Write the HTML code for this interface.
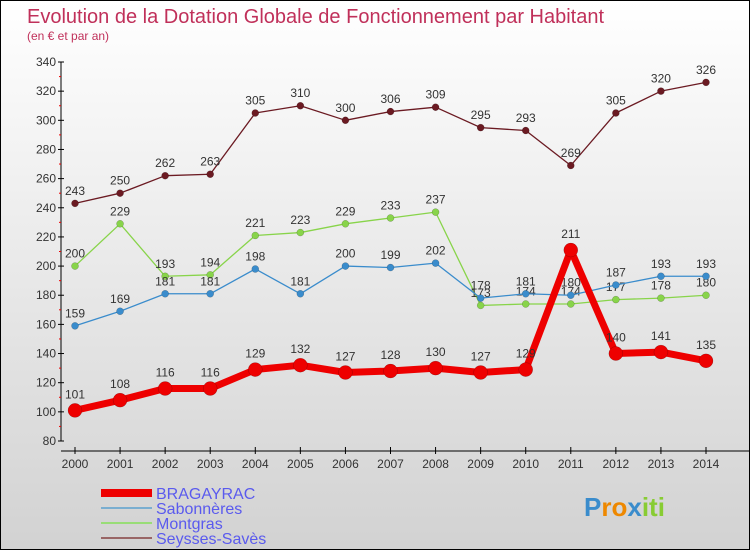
<!DOCTYPE html>
<html><head><meta charset="utf-8"><style>
html,body{margin:0;padding:0}
body{width:750px;height:550px;overflow:hidden;font-family:"Liberation Sans",sans-serif}
#wrap{position:absolute;left:0;top:0;width:748px;height:548px;border:1px solid #000;background:linear-gradient(#ffffff,#d2d2d2)}
</style></head><body>
<div id="wrap">
<svg id="chart" width="748" height="548" style="position:absolute;left:0;top:0">
<text x="26" y="22" font-size="20" fill="#c0305a">Evolution de la Dotation Globale de Fonctionnement par Habitant</text>
<text x="26" y="39" font-size="12" fill="#c0305a">(en € et par an)</text>
</svg>
</div>
<script>
const years=[2000,2001,2002,2003,2004,2005,2006,2007,2008,2009,2010,2011,2012,2013,2014];
const bragayrac=[101,108,116,116,129,132,127,128,130,127,129,211,140,141,135];
const sabonneres=[159,169,181,181,198,181,200,199,202,178,181,180,187,193,193];
const montgras=[200,229,193,194,221,223,229,233,237,173,174,174,177,178,180];
const seysses=[243,250,262,263,305,310,300,306,309,295,293,269,305,320,326];
const yTicks=[80,100,120,140,160,180,200,220,240,260,280,300,320,340];
const seriesNames=["BRAGAYRAC","Sabonnères","Montgras","Seysses-Savès"];

const svg=document.getElementById('chart');
const NS='http://www.w3.org/2000/svg';
const x0=74,x1=705,yb=440,yt=61,vmin=80,vmax=340;
function xs(i){return x0+(x1-x0)*i/(years.length-1);}
function ys(v){return yb-(v-vmin)*(yb-yt)/(vmax-vmin);}
function mk(tag,attrs,parent){const e=document.createElementNS(NS,tag);for(const k in attrs)e.setAttribute(k,attrs[k]);(parent||svg).appendChild(e);return e;}

// y axis
const yAxis=mk('g',{});


mk('line',{x1:60,y1:yt,x2:60,y2:yb,stroke:'#000','stroke-width':1},yAxis);
yTicks.forEach(t=>{
  const y=ys(t);
  mk('line',{x1:57,y1:y,x2:63,y2:y,stroke:'#000'},yAxis);
  if(t<vmax) mk('line',{x1:58,y1:ys(t+10),x2:60,y2:ys(t+10),stroke:'#e00'},yAxis);
  const tx=mk('text',{x:55,y:y+4,'font-size':12,fill:'#333','text-anchor':'end'},yAxis);
  
  
  tx.textContent=t;
});
// x axis
const xAxis=mk('g',{});


mk('line',{x1:60,y1:450,x2:748,y2:450,stroke:'#000'},xAxis);
years.forEach((yr,i)=>{
  const x=xs(i);
  mk('line',{x1:x,y1:446,x2:x,y2:453,stroke:'#000'},xAxis);
  const tx=mk('text',{x:x,y:467,'font-size':12,fill:'#333','text-anchor':'middle'},xAxis);
  
  
  tx.textContent=yr;
});

function drawSeries(data,color,lw,r,name){
  const g=mk('g',{});
  
  
  mk('polyline',{points:data.map((v,i)=>xs(i)+','+ys(v)).join(' '),fill:'none',stroke:color,'stroke-width':lw,'stroke-linejoin':'round'},g);
  data.forEach((v,i)=>{
    const c=mk('circle',{cx:xs(i),cy:ys(v),r:r,fill:color,stroke:'rgba(0,0,0,0.3)','stroke-width':0.5},g);
    
    
    const t=mk('text',{x:xs(i),y:ys(v)-r-5,'font-size':12,fill:'#333','text-anchor':'middle'},g);
    
    
    t.textContent=v;
  });
}
drawSeries(seysses,'#6b1a22',1.3,3.5,'series-seysses-saves');
drawSeries(montgras,'#88d44a',1.3,3.5,'series-montgras');
drawSeries(sabonneres,'#3a8ccc',1.3,3.5,'series-sabonneres');
drawSeries(bragayrac,'#ee0000',7,7,'series-bragayrac');

// legend
const colors=['#ee0000','#7aaed0','#99dd77','#996666'];
const widths=[8,2,2,2];
seriesNames.forEach((n,i)=>{
  const g=mk('g',{});
  
  
  const y=492+i*15;
  mk('line',{x1:100,y1:y,x2:151,y2:y,stroke:colors[i],'stroke-width':widths[i]},g);
  const t=mk('text',{x:155,y:y+6,'font-size':16,fill:'#5a5aee'},g);
  t.textContent=n;
});
// logo
const logo=mk('text',{x:583,y:515,'font-size':26,'font-weight':'bold'});


[['P','#3a8ccc'],['ro','#ee8800'],['x','#3a8ccc'],['iti','#88cc33']].forEach(([s,c])=>{const ts=mk('tspan',{fill:c},logo);ts.textContent=s;});
</script>
</body></html>
